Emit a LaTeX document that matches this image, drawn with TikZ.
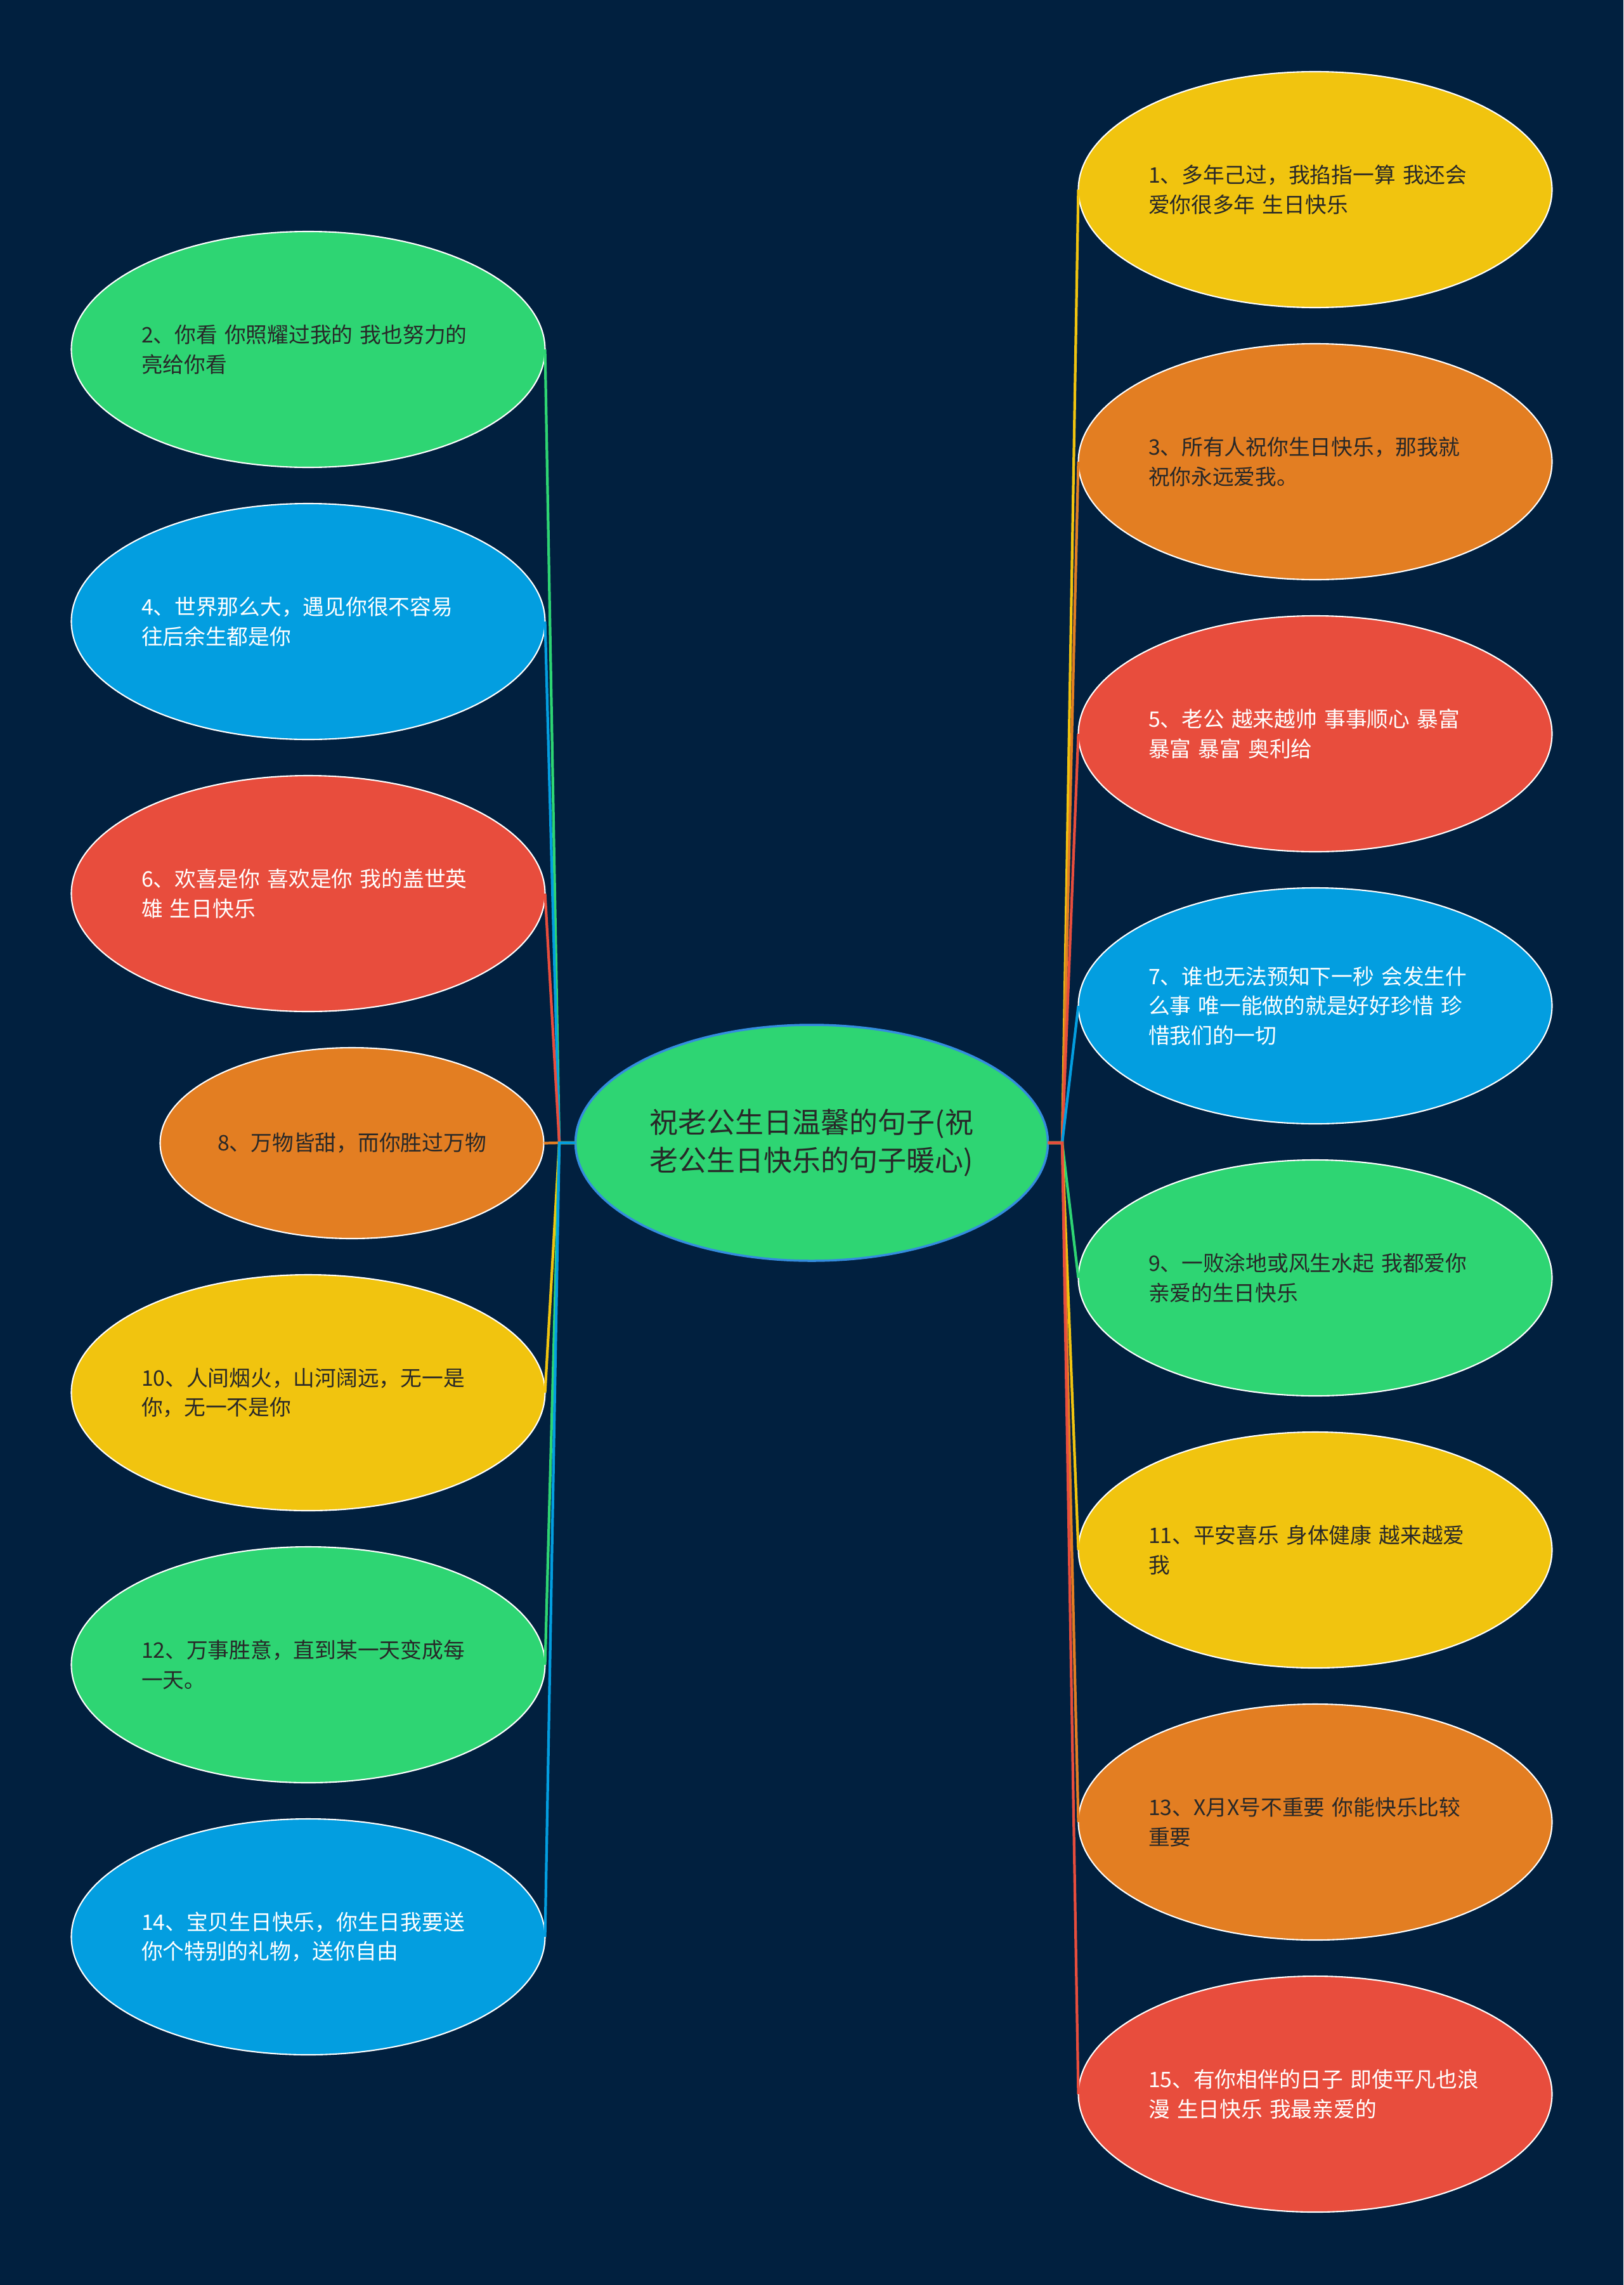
\documentclass[tikz,border=0pt]{standalone}
\usepackage{fontspec}
\newfontfamily\cjk{Noto Sans CJK SC}
\definecolor{Backdrop}{RGB}{1,32,63}
\definecolor{LeafGreen}{RGB}{46,213,115}
\definecolor{LeafBlue}{RGB}{3,158,224}
\definecolor{LeafRed}{RGB}{232,77,61}
\definecolor{LeafOrange}{RGB}{227,126,34}
\definecolor{LeafYellow}{RGB}{241,196,15}
\definecolor{RootBlue}{RGB}{52,140,222}
\definecolor{Ink}{RGB}{40,40,40}
\usetikzlibrary{positioning,shapes.geometric}

\begin{document}
\begin{tikzpicture}[node distance=0.57cm,
  oval/.style={ellipse,draw=white,line width=0.6pt,outer sep=0pt,inner sep=0pt,minimum width=7.47cm,minimum height=3.72cm,font=\cjk\fontsize{9.6}{13.2}\selectfont},
  leaf/.style={oval,text width=5.26cm,align=left},
  dark/.style={text=Ink},
  light/.style={text=white},
  link/.style={line width=1.2pt}]
  \fill[Backdrop] (0,0) rectangle (25.6,-36.03);
  \useasboundingbox (0,0) rectangle (25.6,-36.03);

  \node[ellipse,draw=RootBlue,line width=1pt,fill=LeafGreen,text=Ink,outer sep=0pt,inner sep=0pt,minimum width=7.45cm,minimum height=3.72cm,align=center,font=\cjk\fontsize{12.8}{17}\selectfont] (ctr) at (12.80,-18.02) {祝老公生日温馨的句子(祝\\老公生日快乐的句子暖心)};
  \coordinate (lj) at (8.82,-18.02);
  \coordinate (rj) at (16.75,-18.02);

  % right column
  \node[leaf,fill=LeafYellow,dark] (n1) at (20.74,-2.99) {1、多年己过，我掐指一算 我还会\\爱你很多年 生日快乐};
  \node[leaf,fill=LeafOrange,dark,below=of n1] (n3) {3、所有人祝你生日快乐，那我就\\祝你永远爱我。};
  \node[leaf,fill=LeafRed,light,below=of n3] (n5) {5、老公 越来越帅 事事顺心 暴富\\暴富 暴富 奥利给};
  \node[leaf,fill=LeafBlue,light,below=of n5] (n7) {7、谁也无法预知下一秒 会发生什\\么事 唯一能做的就是好好珍惜 珍\\惜我们的一切};
  \node[leaf,fill=LeafGreen,dark,below=of n7] (n9) {9、一败涂地或风生水起 我都爱你\\亲爱的生日快乐};
  \node[leaf,fill=LeafYellow,dark,below=of n9] (n11) {11、平安喜乐 身体健康 越来越爱\\我};
  \node[leaf,fill=LeafOrange,dark,below=of n11] (n13) {13、X月X号不重要 你能快乐比较\\重要};
  \node[leaf,fill=LeafRed,light,below=of n13] (n15) {15、有你相伴的日子 即使平凡也浪\\漫 生日快乐 我最亲爱的};

  % left column
  \node[leaf,fill=LeafGreen,dark] (n2) at (4.86,-5.51) {2、你看 你照耀过我的 我也努力的\\亮给你看};
  \node[leaf,fill=LeafBlue,light,below=of n2] (n4) {4、世界那么大，遇见你很不容易\\往后余生都是你};
  \node[leaf,fill=LeafRed,light,below=of n4] (n6) {6、欢喜是你 喜欢是你 我的盖世英\\雄 生日快乐};
  \node[oval,fill=LeafOrange,dark,minimum width=6.05cm,minimum height=3.01cm,below=of n6,xshift=0.69cm] (n8) {8、万物皆甜，而你胜过万物};
  \node[leaf,fill=LeafYellow,dark,below=of n8,xshift=-0.69cm] (n10) {10、人间烟火，山河阔远，无一是\\你，无一不是你};
  \node[leaf,fill=LeafGreen,dark,below=of n10] (n12) {12、万事胜意，直到某一天变成每\\一天。};
  \node[leaf,fill=LeafBlue,light,below=of n12] (n14) {14、宝贝生日快乐，你生日我要送\\你个特别的礼物，送你自由};

  \draw[link,LeafYellow] (ctr.east) -- (rj) -- (n1.west);
  \draw[link,LeafOrange] (ctr.east) -- (rj) -- (n3.west);
  \draw[link,LeafRed] (ctr.east) -- (rj) -- (n5.west);
  \draw[link,LeafBlue] (ctr.east) -- (rj) -- (n7.west);
  \draw[link,LeafGreen] (ctr.east) -- (rj) -- (n9.west);
  \draw[link,LeafYellow] (ctr.east) -- (rj) -- (n11.west);
  \draw[link,LeafOrange] (ctr.east) -- (rj) -- (n13.west);
  \draw[link,LeafRed] (ctr.east) -- (rj) -- (n15.west);

  \draw[link,LeafGreen] (ctr.west) -- (lj) -- (n2.east);
  \draw[link,LeafBlue] (ctr.west) -- (lj) -- (n4.east);
  \draw[link,LeafRed] (ctr.west) -- (lj) -- (n6.east);
  \draw[link,LeafOrange] (ctr.west) -- (lj) -- (n8.east);
  \draw[link,LeafYellow] (ctr.west) -- (lj) -- (n10.east);
  \draw[link,LeafGreen] (ctr.west) -- (lj) -- (n12.east);
  \draw[link,LeafBlue] (ctr.west) -- (lj) -- (n14.east);
\end{tikzpicture}
\end{document}
